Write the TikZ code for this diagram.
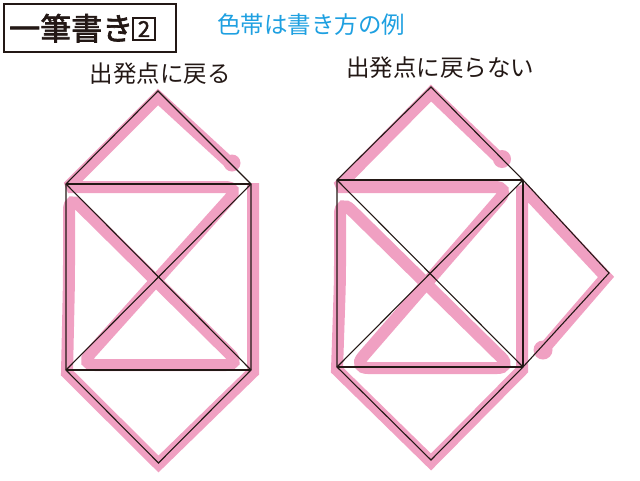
\documentclass[tikz,border=0pt]{standalone}
\usepackage{fontspec}
\newfontfamily\jp{Noto Sans CJK JP}
\newfontfamily\jpb[FakeBold=2.2]{Noto Sans CJK JP}
\definecolor{pk}{RGB}{240,160,194}
\definecolor{ink}{HTML}{231815}
\definecolor{bl}{RGB}{30,160,225}
\begin{document}
\begin{tikzpicture}[x=1pt,y=-1pt,
  pinkline/.style={draw=pk, line width=12pt, line join=miter, miter limit=2},
  blk/.style={draw=ink, line width=1.1pt, line join=miter},
  lbl/.style={inner sep=0pt, text=ink, font=\jp\fontsize{23.5}{26}\selectfont}]
\useasboundingbox (0,0) rectangle (640,480);
\fill[white] (0,0) rectangle (640,480);

% ---------- left figure vertices
\coordinate (LA) at (158,91);
\coordinate (LTL) at (66,184);
\coordinate (LTR) at (251,184);
\coordinate (LBL) at (66,370);
\coordinate (LBR) at (251,370);
\coordinate (LB) at (158.5,463);
% ---------- right figure vertices
\coordinate (RA) at (431,87);
\coordinate (RTL) at (337,180);
\coordinate (RTR) at (523,180);
\coordinate (RBL) at (337,367);
\coordinate (RBR) at (523,367);
\coordinate (RB) at (431,460);
\coordinate (RR) at (609,273);

% ---------- pink strokes (left)
\draw[pinkline] (232,165) -- (158,97) -- (68,187) -- (150,187)
  [rounded corners=15pt] -- (240,187) -- (80,365) -- (241,365) -- (69,195) -- (69,280)
  [sharp corners] -- (67,373) -- (158.5,464) -- (253,372) -- (253,183);
\fill[pk] (232,163) circle (8.5);

% ---------- pink strokes (right)
\draw[pinkline] (502,161) -- (431,93) -- (338,187) -- (420,187)
  [rounded corners=15pt] -- (510,187) -- (353,368) -- (512,368) -- (340,199) -- (340,280)
  [sharp corners] -- (337,370) -- (431,462) -- (522,370) -- (522,187) -- (606,277) -- (543,350);
\fill[pk] (502,159) circle (9);
\fill[pk] (543,350) circle (9.5);

% ---------- black lines (left)
\draw[blk] (LA) -- (LTR) -- (LBR) -- (LB) -- (LBL) -- (LTL) -- cycle;
\draw[blk] (LTL) -- (LTR);
\draw[blk] (LBL) -- (LBR);
\draw[blk] (LTL) -- (LBR);
\draw[blk] (LTR) -- (LBL);
% ---------- black lines (right)
\draw[blk] (RA) -- (RTR) -- (RR) -- (RBR) -- (RB) -- (RBL) -- (RTL) -- cycle;
\draw[blk] (RTR) -- (RBR);
\draw[blk] (RTL) -- (RTR);
\draw[blk] (RBL) -- (RBR);
\draw[blk] (RTL) -- (RBR);
\draw[blk] (RTR) -- (RBL);

% ---------- title
\node (titlebox) [draw=ink, line width=1.8pt, anchor=north west, minimum width=172pt, minimum height=48pt, inner sep=0pt] at (3,3) {};
\node (title) [anchor=base west, inner sep=0pt, text=ink, font=\jpb\fontsize{31}{31}\selectfont] at (9,40) {一筆書き};
\node (two) [draw=ink, line width=1.4pt, minimum width=22pt, minimum height=22pt, inner sep=0pt, text=ink, font=\jpb\fontsize{22}{22}\selectfont] at (144,29) {2};
\node (note) [anchor=west, inner sep=0pt, text=bl, font=\jp\fontsize{23.5}{26}\selectfont] at (217,25) {色帯は書き方の例};
\node (lefttitle) [lbl] at (160,74) {出発点に戻る};
\node (righttitle) [lbl] at (440,68) {出発点に戻らない};
\end{tikzpicture}
\end{document}
